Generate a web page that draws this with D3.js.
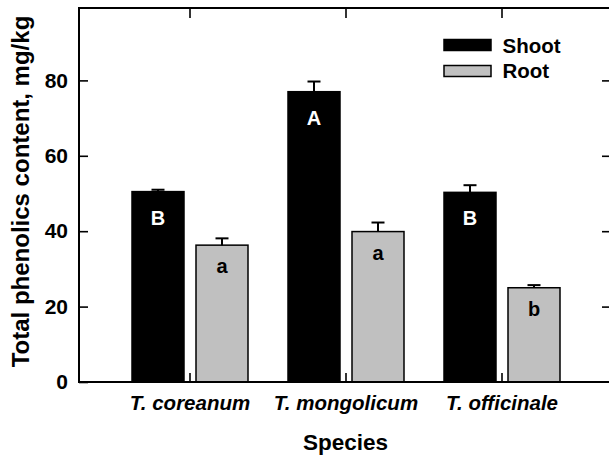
<!DOCTYPE html>
<html><head><meta charset="utf-8">
<script src="https://cdn.jsdelivr.net/npm/d3@7"></script>
<style>
html,body{margin:0;padding:0;background:#fff;}
svg{display:block;font-family:"Liberation Sans",Arial,Helvetica,sans-serif;font-weight:bold;}
</style></head>
<body>
<svg id="chart" width="609" height="456"></svg>
<script>
const species = ["T. coreanum", "T. mongolicum", "T. officinale"];
const series = ["Shoot", "Root"];
const shootValues = [50.5, 77.0, 50.3];
const rootValues = [36.3, 39.9, 25.0];
const shootErrors = [0.5, 2.7, 1.9];
const rootErrors = [1.8, 2.4, 0.7];
const shootLetters = ["B", "A", "B"];
const rootLetters = ["a", "a", "b"];
const yTicks = [0, 20, 40, 60, 80];
const colors = {Shoot: "#000000", Root: "#c0c0c0"};

const svg = d3.select("#chart");
const L = 79, R = 610, T = 8, B = 382;

const x0 = d3.scaleBand().domain(species).range([112, 580]).padding(0);
const x1 = d3.scaleBand().domain(series).range([-58, 58]).paddingInner(0.1875).paddingOuter(0);
const y = d3.scaleLinear().domain([0, 99.2]).range([B, T]);

const rows = [];
species.forEach((s, i) => {
  rows.push({sp: s, ser: "Shoot", v: shootValues[i], e: shootErrors[i], lab: shootLetters[i]});
  rows.push({sp: s, ser: "Root", v: rootValues[i], e: rootErrors[i], lab: rootLetters[i]});
});
const cx = d => x0(d.sp) + x0.bandwidth() / 2;

// bars
svg.append("g").selectAll("rect").data(rows).join("rect")
  .attr("x", d => cx(d) + x1(d.ser))
  .attr("y", d => y(d.v))
  .attr("width", x1.bandwidth())
  .attr("height", d => y(0) - y(d.v))
  .attr("fill", d => colors[d.ser])
  .attr("stroke", "#000").attr("stroke-width", 1.5);

// error bars
const eg = svg.append("g").attr("stroke", "#000").attr("stroke-width", 2);
rows.forEach(d => {
  const xc = cx(d) + x1(d.ser) + x1.bandwidth() / 2;
  eg.append("line").attr("x1", xc).attr("x2", xc).attr("y1", y(d.v)).attr("y2", y(d.v + d.e));
  eg.append("line").attr("x1", xc - 6.5).attr("x2", xc + 6.5).attr("y1", y(d.v + d.e)).attr("y2", y(d.v + d.e));
});

// letters
svg.append("g").selectAll("text").data(rows).join("text")
  .attr("x", d => cx(d) + x1(d.ser) + x1.bandwidth() / 2)
  .attr("y", d => y(d.v) + (d.ser === "Shoot" ? 33 : 28))
  .attr("text-anchor", "middle")
  .attr("font-size", 20)
  .attr("fill", d => d.ser === "Shoot" ? "#fff" : "#000")
  .text(d => d.lab);

// axes
const ax = svg.append("g");
ax.append("g").attr("transform", `translate(${L},0)`)
  .call(d3.axisLeft(y).tickValues(yTicks).tickSize(-9).tickPadding(11).tickFormat(d3.format("d")))
  .call(g => g.select(".domain").remove())
  .call(g => g.selectAll("text").attr("font-size", 21).attr("font-weight", "bold").attr("fill", "#000").attr("font-family", "Liberation Sans, Arial, sans-serif"));
ax.append("g").attr("transform", `translate(${R - 1},0)`)
  .call(d3.axisRight(y).tickValues(yTicks.filter(v => v > 0)).tickSize(-7).tickFormat(""))
  .call(g => g.select(".domain").remove());
ax.append("g").attr("transform", `translate(0,${B})`)
  .call(d3.axisBottom(x0).tickSize(-9).tickFormat(""))
  .call(g => g.select(".domain").remove());
ax.append("g").attr("transform", `translate(0,${T})`)
  .call(d3.axisTop(x0).tickSize(-10).tickFormat(""))
  .call(g => g.select(".domain").remove());
ax.selectAll(".tick line").attr("stroke", "#000").attr("stroke-width", 1.6);

// frame
svg.append("rect").attr("x", L).attr("y", T).attr("width", R - L).attr("height", B - T)
  .attr("fill", "none").attr("stroke", "#000").attr("stroke-width", 2);

// category labels
svg.append("g").selectAll("text").data(species).join("text")
  .attr("x", d => x0(d) + x0.bandwidth() / 2)
  .attr("y", 410)
  .attr("text-anchor", "middle")
  .attr("font-size", 20.5)
  .attr("font-style", "italic")
  .text(d => d);

// axis titles
svg.append("text").attr("x", 345.5).attr("y", 450).attr("text-anchor", "middle")
  .attr("font-size", 22.5).text("Species");
svg.append("text").attr("transform", "translate(29,191.5) rotate(-90)").attr("text-anchor", "middle")
  .attr("font-size", 24).text("Total phenolics content, mg/kg");

// legend
const lg = svg.append("g");
series.forEach((s, i) => {
  lg.append("rect").attr("x", 444).attr("y", 39.5 + i * 26).attr("width", 47).attr("height", 11)
    .attr("fill", colors[s]).attr("stroke", "#000").attr("stroke-width", 1.5);
  lg.append("text").attr("x", 502.5).attr("y", 52.5 + i * 25.5).attr("font-size", 20.5).text(s);
});
</script>
</body></html>
